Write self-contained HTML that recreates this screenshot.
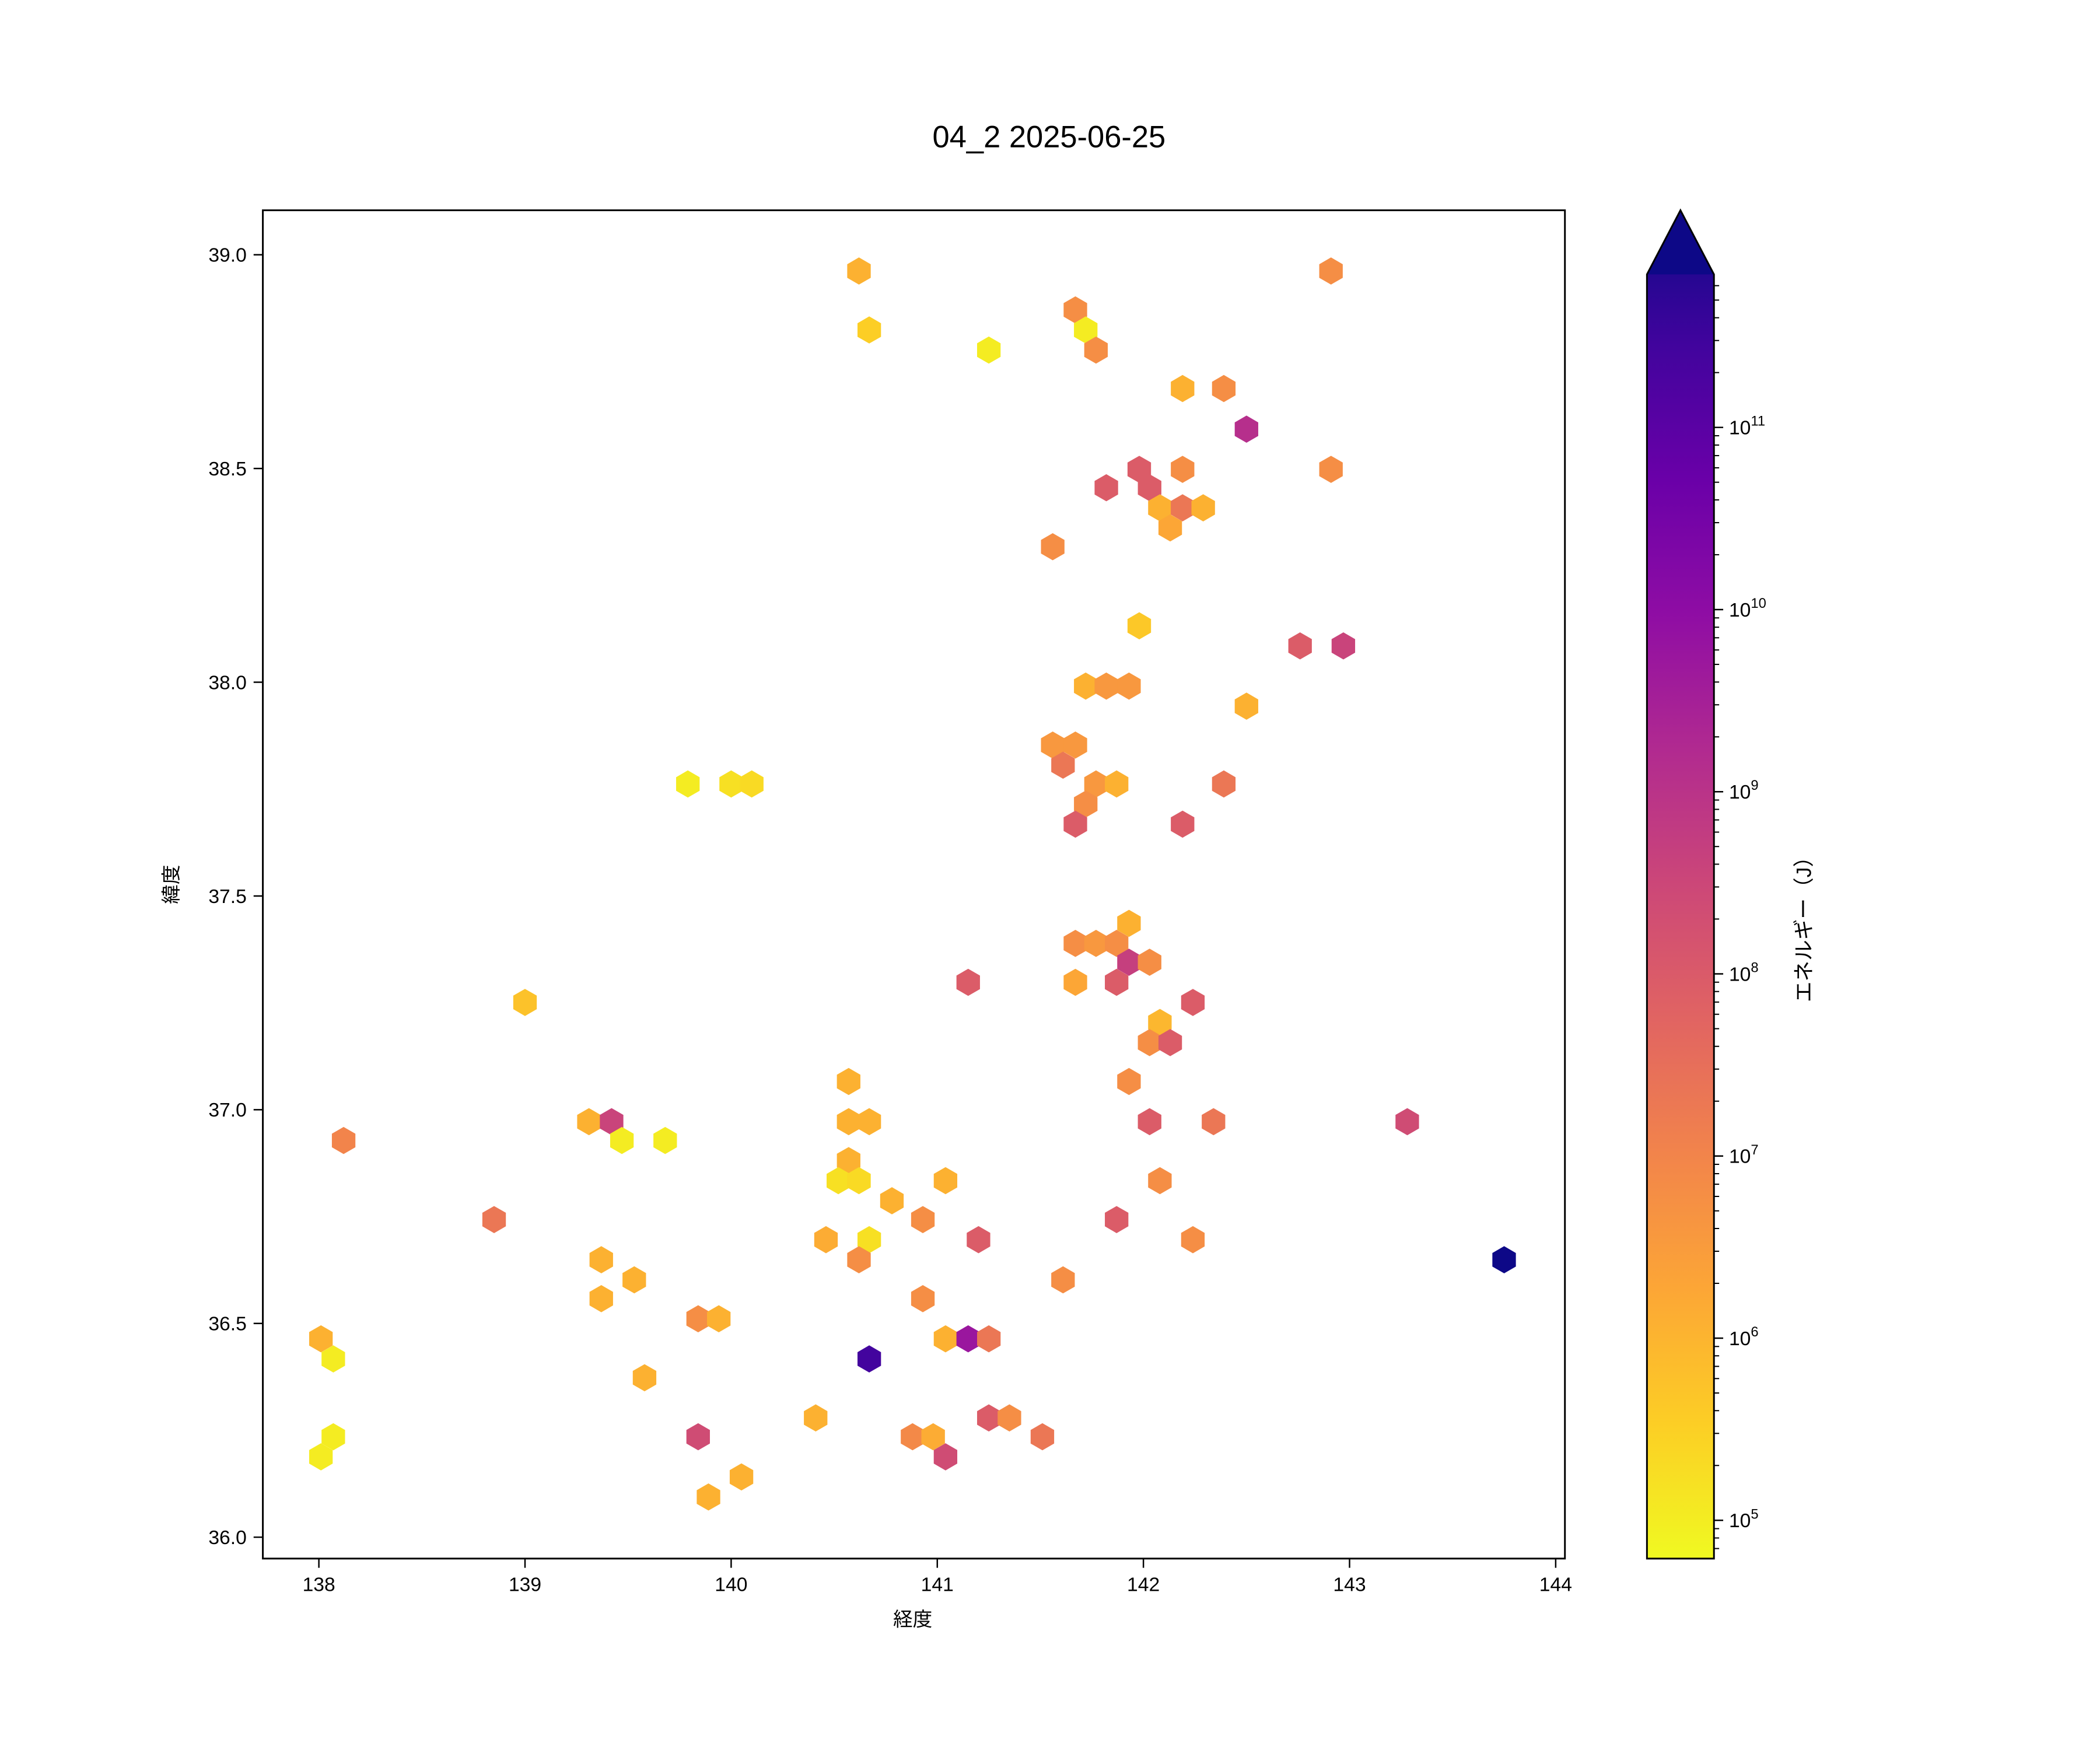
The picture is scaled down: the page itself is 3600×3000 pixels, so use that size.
<!DOCTYPE html>
<html><head><meta charset="utf-8">
<style>
body{margin:0;background:#fff;}
svg{display:block;font-family:"Liberation Sans","Noto Sans CJK JP",sans-serif;}
</style></head>
<body>
<svg id="chart" width="3600" height="3000" viewBox="0 0 3600 3000" xmlns="http://www.w3.org/2000/svg">
<defs>
<linearGradient id="plasma" x1="0" y1="1" x2="0" y2="0">
<stop offset="0" stop-color="#f0f921"/><stop offset="0.1" stop-color="#fcce25"/><stop offset="0.2" stop-color="#fca636"/><stop offset="0.3" stop-color="#f2844b"/><stop offset="0.4" stop-color="#e16462"/><stop offset="0.5" stop-color="#cc4778"/><stop offset="0.6" stop-color="#b12a90"/><stop offset="0.7" stop-color="#8f0da4"/><stop offset="0.8" stop-color="#6a00a8"/><stop offset="0.9" stop-color="#41049d"/><stop offset="1" stop-color="#0d0887"/>
</linearGradient>
</defs>
<g transform="scale(0.9903)">
<text x="1816" y="255" font-size="53" text-anchor="middle">04_2 2025-06-25</text>
<g id="hexes"></g>
<rect x="455" y="364" width="2254" height="2334" fill="none" stroke="#000" stroke-width="3"/>
<g id="xticks"></g>
<g id="yticks"></g>
<text x="1580" y="2815" font-size="34" text-anchor="middle">経度</text>
<text x="0" y="0" font-size="34" text-anchor="middle" transform="translate(308,1531) rotate(-90)">緯度</text>
<g>
<polygon points="2851,2698 2851,475 2909,364 2967,475 2967,2698" fill="url(#plasma)" stroke="none"/>
<polygon points="2851,475 2909,364 2967,475" fill="#0d0887"/>
<polygon points="2851,2698 2851,475 2909,364 2967,475 2967,2698" fill="none" stroke="#000" stroke-width="3"/>
<g id="cticks"></g>
</g>
<text x="0" y="0" font-size="36" text-anchor="middle" transform="translate(3135,1600) rotate(-90)">エネルギー（J）</text>
</g>
</svg>
<script>
const lons=[140.62,140.67,141.67,141.72,141.77,141.25,142.19,142.39,142.50,142.91,142.91,141.98,142.19,141.82,142.03,142.08,142.19,142.29,142.13,141.56,141.98,142.76,142.97,141.72,141.82,141.93,142.50,141.56,141.67,141.61,141.77,141.87,141.72,142.39,141.67,142.19,139.79,140.00,140.10,141.93,141.67,141.77,141.87,141.93,142.03,141.15,141.67,141.87,142.24,139.00,142.08,142.03,142.13,141.93,140.57,139.31,139.42,140.57,140.67,142.03,142.34,143.28,138.12,139.47,139.68,140.57,140.52,140.62,141.04,142.08,140.78,138.85,140.93,141.87,140.46,140.67,141.20,142.24,139.37,140.62,143.75,139.53,141.61,139.37,140.93,139.84,139.94,138.01,141.04,141.15,141.25,138.07,140.67,139.58,140.41,141.25,141.35,138.07,139.84,140.88,140.98,141.51,138.01,141.04,140.05,139.89];
const lats=[38.962,38.824,38.871,38.824,38.777,38.777,38.687,38.687,38.592,38.962,38.498,38.498,38.498,38.455,38.455,38.408,38.408,38.408,38.361,38.317,38.132,38.085,38.085,37.991,37.991,37.991,37.944,37.853,37.853,37.806,37.762,37.762,37.715,37.762,37.668,37.668,37.762,37.762,37.762,37.436,37.389,37.389,37.389,37.345,37.345,37.298,37.298,37.298,37.251,37.251,37.204,37.157,37.157,37.066,37.066,36.972,36.972,36.972,36.972,36.972,36.972,36.972,36.928,36.928,36.928,36.881,36.834,36.834,36.834,36.834,36.787,36.743,36.743,36.743,36.696,36.696,36.696,36.696,36.649,36.649,36.649,36.602,36.602,36.558,36.558,36.511,36.511,36.464,36.464,36.464,36.464,36.417,36.417,36.373,36.279,36.279,36.279,36.235,36.235,36.235,36.235,36.235,36.188,36.188,36.141,36.094];
const logE=[6.0,5.5,6.7,5.0,6.7,5.0,6.0,6.7,8.9,6.7,6.7,7.8,6.7,7.8,7.8,6.0,7.2,6.0,6.2,6.7,5.6,7.8,8.4,6.0,6.5,6.5,6.0,6.5,6.5,7.2,6.5,6.0,6.7,7.2,7.8,7.8,5.0,5.2,5.3,6.0,6.7,6.5,6.7,8.5,6.7,7.8,6.2,7.8,7.8,5.7,5.9,6.7,7.8,6.7,6.0,6.0,8.4,6.0,6.0,7.8,7.2,8.2,6.9,5.0,5.0,6.0,5.2,5.3,6.0,6.7,6.0,7.2,6.7,7.8,6.1,5.2,7.8,6.7,6.0,6.7,12.0,6.0,6.7,6.0,6.7,6.7,6.0,6.0,6.0,9.5,7.2,5.0,11.1,6.0,6.0,7.8,6.7,5.0,8.2,6.8,6.1,7.2,5.0,8.2,6.0,6.0];
const xTicks=[138,139,140,141,142,143,144];
const yTicks=[36.0,36.5,37.0,37.5,38.0,38.5,39.0];
const cTicks=[5,6,7,8,9,10,11];
const cMin=4.79, cMax=11.84;

const NS="http://www.w3.org/2000/svg";
const X=v=>552+(v-138)*(2693-552)/6;
const Y=v=>2661-(v-36)*(2661-441)/3;
const C=v=>2698-(v-cMin)*(2698-475)/(cMax-cMin);
const stops=["#0d0887","#41049d","#6a00a8","#8f0da4","#b12a90","#cc4778","#e16462","#f2844b","#fca636","#fcce25","#f0f921"];
function hx(h){return [1,3,5].map(i=>parseInt(h.substr(i,2),16));}
function plasma(l){
  let t=1-(l-cMin)/(cMax-cMin); t=Math.max(0,Math.min(1,t));
  const p=t*10,i=Math.min(9,Math.floor(p)),f=p-i;
  const a=hx(stops[i]),b=hx(stops[i+1]);
  return "rgb("+a.map((c,k)=>Math.round(c+(b[k]-c)*f)).join(",")+")";
}
function mk(tag,attrs,parent){const e=document.createElementNS(NS,tag);for(const k in attrs)e.setAttribute(k,attrs[k]);parent.appendChild(e);return e;}
const hexG=document.getElementById('hexes');
const R=23.5;
for(let i=0;i<lons.length;i++){
  const cx=X(lons[i]),cy=Y(lats[i]);
  const pts=[];
  for(let k=0;k<6;k++){const a=Math.PI/180*(90+60*k);pts.push((cx+R*Math.cos(a)).toFixed(1)+","+(cy+R*Math.sin(a)).toFixed(1));}
  const p=mk('polygon',{points:pts.join(" "),fill:plasma(logE[i])},hexG);
  
  
}
const xg=document.getElementById('xticks');
xTicks.forEach(v=>{
  const x=X(v);
  const l=mk('line',{x1:x,y1:2698,x2:x,y2:2714,stroke:'#000','stroke-width':2.5},xg);
  
  
  const t=mk('text',{x:x,y:2754,'font-size':34,'text-anchor':'middle'},xg);
  t.textContent=v;
  
  
});
const yg=document.getElementById('yticks');
yTicks.forEach(v=>{
  const y=Y(v);
  const l=mk('line',{x1:439,y1:y,x2:455,y2:y,stroke:'#000','stroke-width':2.5},yg);
  
  
  const t=mk('text',{x:427,y:y+12,'font-size':34,'text-anchor':'end'},yg);
  t.textContent=v.toFixed(1);
  
  
});
const cg=document.getElementById('cticks');
for(let d=4;d<=11;d++){
  for(let m=1;m<10;m++){
    const lv=d+Math.log10(m);
    if(lv<cMin||lv>cMax)continue;
    const y=C(lv);
    const major=m===1;
    const l=mk('line',{x1:2967,y1:y,x2:2967+(major?16:9),y2:y,stroke:'#000','stroke-width':major?2.5:2},cg);
    
    
  }
}
cTicks.forEach(v=>{
  const y=C(v);
  const t=mk('text',{x:2993,y:y+12,'font-size':34},cg);
  t.textContent="10";
  const s=mk('tspan',{dy:-15,'font-size':24},t);
  s.textContent=v;
  
  
});
</script>
</body></html>
